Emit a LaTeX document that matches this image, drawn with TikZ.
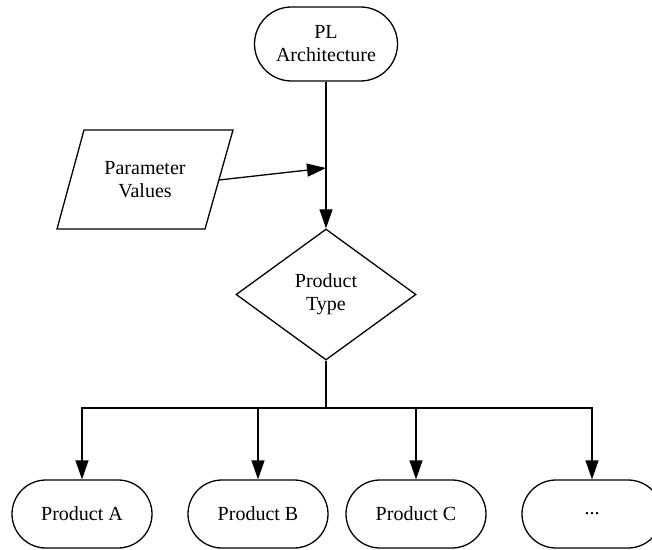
\documentclass[tikz,border=0pt]{standalone}
\usepackage{fontspec}
\setmainfont{Liberation Serif}
\usetikzlibrary{shapes.misc,shapes.geometric,arrows.meta}
\begin{document}
\begin{tikzpicture}[x=0.5pt,y=-0.5pt,
  font=\fontsize{10pt}{11.5pt}\selectfont,
  line width=0.65pt,
  term/.style={draw, rounded rectangle, inner sep=0pt, align=center},
  decision/.style={draw, diamond, inner sep=0pt, minimum width=90pt, minimum height=65.5pt, align=center},
  arr/.style={-{Triangle[length=9.5pt,width=6.5pt]}}]
\useasboundingbox[fill=white] (0,0) rectangle (652,550);
\node[term, minimum width=71.5pt, minimum height=37pt] (pl) at (326,44) {PL\\Architecture};
\node[align=center] (pv) at (145,180) {Parameter\\Values};
\draw (84,130) -- (233,130) -- (205,229) -- (57,229) -- cycle;
\coordinate (pvr) at (219,180);
\coordinate (join) at (326,168);
\node[decision] (pt) at (326,294.5) {Product\\Type};
\coordinate (bar) at (326,408);
\node[term, minimum width=70pt, minimum height=34pt] (pa) at (82,514) {Product A};
\node[term, minimum width=70pt, minimum height=34pt] (pb) at (258,514) {Product B};
\node[term, minimum width=70pt, minimum height=34pt] (pc) at (416,514) {Product C};
\node[term, minimum width=70pt, minimum height=34pt] (pd) at (592,514) {...};
\draw[arr] (pl.south) -- (pt.north);
\draw[arr] (pvr) -- (join);
\draw (pt.south) -- (bar);
\draw[arr] (bar) -| (pa.north);
\draw[arr] (bar) -| (pb.north);
\draw[arr] (bar) -| (pc.north);
\draw[arr] (bar) -| (pd.north);
\end{tikzpicture}
\end{document}
